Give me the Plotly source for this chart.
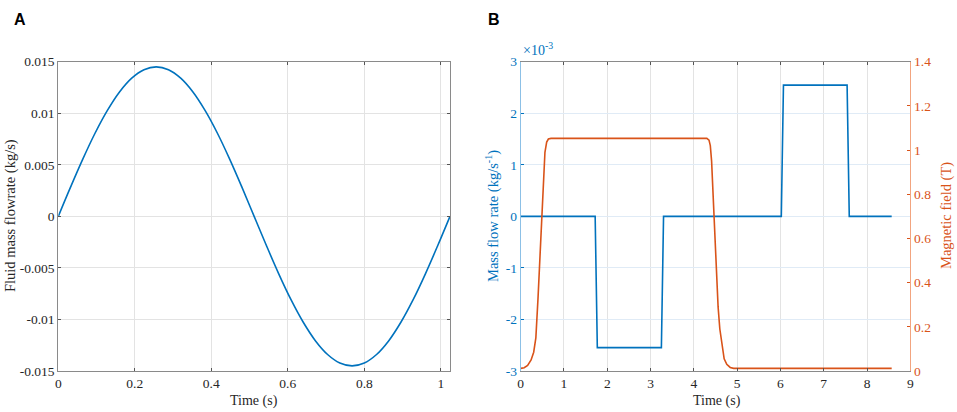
import plotly.graph_objects as go

# ---------- Panel A data ----------
time_a = [0.000, 0.032, 0.064, 0.096, 0.128, 0.160, 0.192, 0.224, 0.256, 0.288, 0.320,
          0.352, 0.384, 0.416, 0.448, 0.480, 0.512, 0.544, 0.576, 0.608, 0.640, 0.672,
          0.704, 0.736, 0.768, 0.800, 0.832, 0.864, 0.896, 0.928, 0.960, 0.992, 1.024]
flow_a = [0.0, 0.00283, 0.00555, 0.00806, 0.01025, 0.01206, 0.01340, 0.01422, 0.0145,
          0.01422, 0.01340, 0.01206, 0.01025, 0.00806, 0.00555, 0.00283, 0.0,
          -0.00283, -0.00555, -0.00806, -0.01025, -0.01206, -0.01340, -0.01422, -0.0145,
          -0.01422, -0.01340, -0.01206, -0.01025, -0.00806, -0.00555, -0.00283, 0.0]
a_xticks = [0, 0.2, 0.4, 0.6, 0.8, 1.0]
a_xticklabels = ["0", "0.2", "0.4", "0.6", "0.8", "1"]
a_yticks = [-0.015, -0.01, -0.005, 0, 0.005, 0.01, 0.015]
a_yticklabels = ["-0.015", "-0.01", "-0.005", "0", "0.005", "0.01", "0.015"]

# ---------- Panel B data ----------
time_flow = [0.0, 1.72, 1.77, 3.25, 3.30, 6.02, 6.07, 7.54, 7.59, 8.57]
mass_flow = [0.0, 0.0, -0.002546, -0.002546, 0.0, 0.0, 0.002546, 0.002546, 0.0, 0.0]
time_field = [0.0, 0.08, 0.16, 0.24, 0.30, 0.35, 0.40, 0.44, 0.48, 0.52, 0.56, 0.60, 0.64, 0.70,
              4.30, 4.35, 4.38, 4.41, 4.44, 4.47, 4.50, 4.53, 4.56, 4.60, 4.65, 4.70, 4.76,
              4.84, 4.92, 8.57]
mag_field = [0.012, 0.015, 0.025, 0.05, 0.085, 0.15, 0.33, 0.50, 0.71, 0.86, 0.99, 1.036, 1.05, 1.053,
             1.053, 1.045, 1.02, 0.95, 0.82, 0.67, 0.53, 0.41, 0.29, 0.19, 0.11, 0.055, 0.03,
             0.016, 0.012, 0.012]
b_xticks = [0, 1, 2, 3, 4, 5, 6, 7, 8, 9]
b_yticks = [-0.003, -0.002, -0.001, 0, 0.001, 0.002, 0.003]
b_yticklabels = ["-3", "-2", "-1", "0", "1", "2", "3"]
b_y2ticks = [0, 0.2, 0.4, 0.6, 0.8, 1.0, 1.2, 1.4]
b_y2ticklabels = ["0", "0.2", "0.4", "0.6", "0.8", "1", "1.2", "1.4"]

BLUE = "#0072BD"
ORANGE = "#D95319"
W, H = 957, 412
SERIF = "Liberation Serif"

def px(x):
    return x / W

def py(y):
    return 1 - y / H

fig = go.Figure()
fig.add_trace(go.Scatter(x=time_a, y=flow_a, mode="lines", line=dict(color=BLUE, width=1.6, shape="spline"),
                         xaxis="x", yaxis="y", showlegend=False, hoverinfo="skip"))
fig.add_trace(go.Scatter(x=time_flow, y=mass_flow, mode="lines", line=dict(color=BLUE, width=1.6),
                         xaxis="x2", yaxis="y2", showlegend=False, hoverinfo="skip"))
fig.add_trace(go.Scatter(x=time_field, y=mag_field, mode="lines", line=dict(color=ORANGE, width=1.6),
                         xaxis="x2", yaxis="y3", showlegend=False, hoverinfo="skip"))

tickfont = dict(family=SERIF, size=13.5, color="#262626")
common = dict(showgrid=True, gridcolor="#e3e3e3", gridwidth=1, zeroline=False, showline=True,
              linewidth=1, ticks="inside", ticklen=3, tickwidth=1, automargin=False)

fig.update_layout(
    width=W, height=H, margin=dict(l=0, r=0, t=0, b=0, autoexpand=False),
    font=dict(family=SERIF, size=13.5, color="#262626"),
    paper_bgcolor="white", plot_bgcolor="white", hovermode=False,
    xaxis=dict(domain=[px(58.3), px(450)], range=[0, 1.024], tickvals=a_xticks, ticktext=a_xticklabels,
               linecolor="#8a8a8a", tickcolor="#555", mirror="ticks", anchor="y", tickfont=tickfont, **common),
    yaxis=dict(domain=[py(371), py(61.7)], range=[-0.015, 0.015], tickvals=a_yticks, ticktext=a_yticklabels,
               linecolor="#8a8a8a", tickcolor="#555", mirror="ticks", anchor="x", tickfont=tickfont, **common),
    xaxis2=dict(domain=[px(520.7), px(910.3)], range=[0, 9], tickvals=b_xticks,
                linecolor="#8a8a8a", tickcolor="#555", mirror="ticks", anchor="y2", tickfont=tickfont, **common),
    yaxis2=dict(domain=[py(371), py(61.7)], range=[-0.003, 0.003], tickvals=b_yticks, ticktext=b_yticklabels,
                showgrid=True, gridcolor="#e0ebf6", gridwidth=1, zeroline=False, showline=True, automargin=False,
                linewidth=1.2, ticks="inside", ticklen=3, linecolor="#8cc0e6", tickcolor=BLUE,
                anchor="x2", tickfont=dict(family=SERIF, size=13.5, color=BLUE)),
    yaxis3=dict(range=[0, 1.4], tickvals=b_y2ticks, ticktext=b_y2ticklabels, overlaying="y2", side="right",
                anchor="x2", showgrid=False, zeroline=False, showline=True, linewidth=1.2, automargin=False,
                ticks="inside", ticklen=3, linecolor="#f2a47f", tickcolor=ORANGE,
                tickfont=dict(family=SERIF, size=13.5, color=ORANGE)),
)

annots = [
    dict(text="<b>A</b>", x=px(12), y=py(20), xanchor="left", yanchor="middle",
         font=dict(family="Liberation Sans", size=16, color="black")),
    dict(text="<b>B</b>", x=px(486), y=py(20), xanchor="left", yanchor="middle",
         font=dict(family="Liberation Sans", size=16, color="black")),
    dict(text="Time (s)", x=px(254), y=py(401), xanchor="center", yanchor="middle",
         font=dict(family=SERIF, size=14, color="#262626")),
    dict(text="Time (s)", x=px(717), y=py(401), xanchor="center", yanchor="middle",
         font=dict(family=SERIF, size=14, color="#262626")),
    dict(text="Fluid mass flowrate (kg/s)", x=px(10), y=py(216), xanchor="center", yanchor="middle",
         textangle=-90, font=dict(family=SERIF, size=14.5, color="#262626")),
    dict(text="Mass flow rate (kg/s<sup>-1</sup>)", x=px(492), y=py(216), xanchor="center", yanchor="middle",
         textangle=-90, font=dict(family=SERIF, size=14.5, color=BLUE)),
    dict(text="Magnetic field (T)", x=px(946), y=py(216), xanchor="center", yanchor="middle",
         textangle=-90, font=dict(family=SERIF, size=14.5, color=ORANGE)),
    dict(text="×10<sup>-3</sup>", x=px(521), y=py(60), xanchor="left", yanchor="bottom",
         font=dict(family=SERIF, size=14, color=BLUE)),
]
for a in annots:
    a.update(xref="paper", yref="paper", showarrow=False)
fig.update_layout(annotations=annots)

fig.write_html("out.html", config={"displayModeBar": False},
               post_script="document.body.style.margin='0';document.body.style.overflow='hidden';")
